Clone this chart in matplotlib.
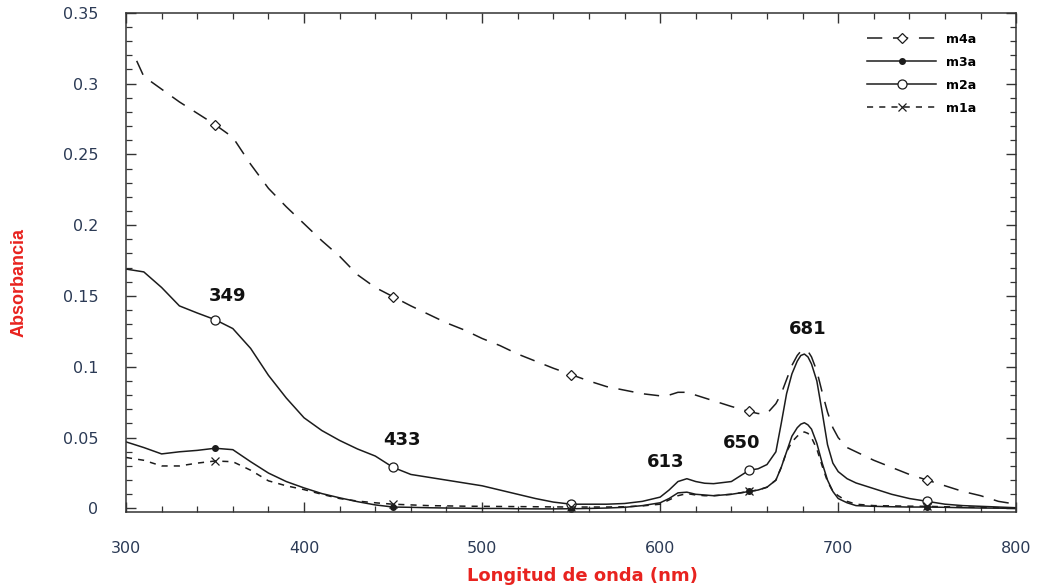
import matplotlib
matplotlib.use("Agg")
import matplotlib.pyplot as plt
from matplotlib.ticker import MultipleLocator, FuncFormatter

# wavelength grid (nm) shared by the spectra
wl = [300, 310, 320, 330, 340, 350, 360, 370, 380, 390, 400, 410, 420, 430, 440,
      450, 460, 470, 480, 490, 500, 510, 520, 530, 540, 550, 560, 570, 580, 590,
      600, 605, 610, 615, 620, 625, 630, 640, 650, 655, 660, 665, 668, 671, 674,
      677, 679, 681, 683, 685, 688, 691, 694, 697, 700, 705, 710, 720, 730, 740,
      750, 760, 770, 780, 790, 800]

m4a = [0.316, 0.305, 0.296, 0.287, 0.279, 0.271, 0.262, 0.243, 0.226, 0.213, 0.201,
       0.189, 0.178, 0.165, 0.156, 0.1495, 0.143, 0.137, 0.131, 0.126, 0.120, 0.115,
       0.109, 0.104, 0.099, 0.0945, 0.090, 0.086, 0.0835, 0.081, 0.0795, 0.080, 0.082,
       0.082, 0.080, 0.078, 0.076, 0.072, 0.0685, 0.067, 0.067, 0.074, 0.081, 0.091,
       0.101, 0.108, 0.111, 0.112, 0.111, 0.107, 0.097, 0.082, 0.068, 0.057, 0.050,
       0.043, 0.040, 0.034, 0.029, 0.024, 0.020, 0.016, 0.012, 0.009, 0.005, 0.003]

m3a = [0.047, 0.043, 0.0385, 0.040, 0.041, 0.0425, 0.0415, 0.033, 0.025, 0.019,
       0.0145, 0.0105, 0.0075, 0.0048, 0.0025, 0.001, 0.0008, 0.0005, 0.0003, 0.0002,
       0.0, 0.0, -0.0002, -0.0003, -0.0003, -0.0002, 0.0, 0.0003, 0.0008, 0.002,
       0.004, 0.007, 0.011, 0.0115, 0.010, 0.0095, 0.009, 0.010, 0.012, 0.013, 0.015,
       0.020, 0.029, 0.040, 0.051, 0.057, 0.0595, 0.0605, 0.059, 0.056, 0.046, 0.032,
       0.020, 0.012, 0.007, 0.004, 0.002, 0.0015, 0.0012, 0.001, 0.001, 0.0008,
       0.0005, 0.0003, 0.0002, 0.0]

m2a = [0.169, 0.167, 0.156, 0.143, 0.138, 0.1333, 0.127, 0.113, 0.094, 0.078, 0.064,
       0.055, 0.048, 0.042, 0.037, 0.029, 0.024, 0.022, 0.020, 0.018, 0.016, 0.013,
       0.010, 0.007, 0.0045, 0.003, 0.003, 0.003, 0.0035, 0.005, 0.008, 0.013, 0.019,
       0.021, 0.019, 0.0178, 0.0175, 0.019, 0.027, 0.028, 0.031, 0.040, 0.060, 0.081,
       0.095, 0.104, 0.108, 0.109, 0.107, 0.102, 0.090, 0.068, 0.045, 0.032, 0.026,
       0.021, 0.018, 0.014, 0.010, 0.007, 0.005, 0.003, 0.002, 0.0015, 0.001, 0.0005]

m1a = [0.036, 0.034, 0.030, 0.030, 0.032, 0.0335, 0.033, 0.027, 0.0195, 0.016, 0.0133,
       0.010, 0.007, 0.0052, 0.004, 0.003, 0.0025, 0.002, 0.0018, 0.0016, 0.0015,
       0.0014, 0.0013, 0.0012, 0.0011, 0.001, 0.001, 0.001, 0.0012, 0.0018, 0.003,
       0.006, 0.009, 0.0105, 0.0095, 0.009, 0.009, 0.010, 0.012, 0.013, 0.015, 0.020,
       0.029, 0.040, 0.047, 0.051, 0.053, 0.054, 0.053, 0.050, 0.042, 0.030, 0.019,
       0.012, 0.009, 0.005, 0.003, 0.002, 0.0018, 0.0016, 0.0015, 0.0012, 0.001,
       0.0008, 0.0005, 0.0]

# m4a starts a little after 300 nm
wl_m4a = [306] + wl[1:]

marker_wl = [350, 450, 550, 650, 750]

peak_labels = ["349", "433", "613", "650", "681"]
peak_pos = [(357, 0.150), (455, 0.048), (603, 0.033), (645.5, 0.046), (683, 0.127)]

ink = "#1c1c1c"
tick_col = "#2b3a55"
red = "#e8231f"

fig = plt.figure(figsize=(10.37, 5.85), dpi=100)
ax = fig.add_axes([0.1215, 0.1248, 0.8585, 0.8535])

idx = [wl.index(v) for v in marker_wl]
idx4 = [wl_m4a.index(v) for v in marker_wl]

ax.plot(wl_m4a, m4a, color=ink, lw=1.1, dashes=(10, 7), marker="D", ms=5,
        mfc="white", mec=ink, mew=0.9, markevery=idx4, label="m4a")
ax.plot(wl, m3a, color=ink, lw=1.1, marker="o", ms=4, mfc=ink, mec=ink,
        markevery=idx, label="m3a")
ax.plot(wl, m2a, color=ink, lw=1.1, marker="o", ms=6.5, mfc="white", mec=ink,
        mew=0.9, markevery=idx, label="m2a")
ax.plot(wl, m1a, color=ink, lw=1.1, dashes=(4, 4), marker="x", ms=6, mec=ink,
        mew=0.9, markevery=idx, label="m1a")

for txt, (x, y) in zip(peak_labels, peak_pos):
    ax.text(x, y, txt, ha="center", va="center", fontsize=13, fontweight="bold",
            family="DejaVu Sans", color="#111111")

ax.set_xlim(300, 800)
ax.set_ylim(-0.0025, 0.35)
ax.xaxis.set_major_locator(MultipleLocator(100))
ax.xaxis.set_minor_locator(MultipleLocator(20))
ax.yaxis.set_major_locator(MultipleLocator(0.05))
ax.yaxis.set_minor_locator(MultipleLocator(0.01))
ax.yaxis.set_major_formatter(FuncFormatter(lambda v, p: "%g" % round(v, 2)))

ax.tick_params(which="both", direction="in", top=True, right=True, color="#333333")
ax.tick_params(which="major", length=7, width=1.0)
ax.tick_params(which="minor", length=4, width=0.9)
ax.tick_params(axis="x", which="major", pad=21, labelsize=11.5, labelcolor=tick_col)
ax.tick_params(axis="y", which="major", pad=20, labelsize=11.5, labelcolor=tick_col)
for lab in ax.get_xticklabels() + ax.get_yticklabels():
    lab.set_family("DejaVu Sans")
for sp in ax.spines.values():
    sp.set_color("#333333")
    sp.set_linewidth(1.1)

ax.set_xlabel("Longitud de onda (nm)", fontsize=13, fontweight="bold", color=red,
              family="DejaVu Sans")
ax.xaxis.set_label_coords(0.513, -0.111)
ax.set_ylabel("Absorbancia", fontsize=13, fontweight="bold", color=red,
              family="Liberation Sans")
ax.yaxis.set_label_coords(-0.111, 0.46)

leg = ax.legend(loc="upper right", bbox_to_anchor=(0.955, 0.96), frameon=False,
                borderaxespad=0, borderpad=0, handlelength=5.5, handletextpad=0.8,
                labelspacing=0.8, prop={"family": "DejaVu Sans", "weight": "bold",
                                        "size": 9})

fig.savefig("out.png", dpi=100)
